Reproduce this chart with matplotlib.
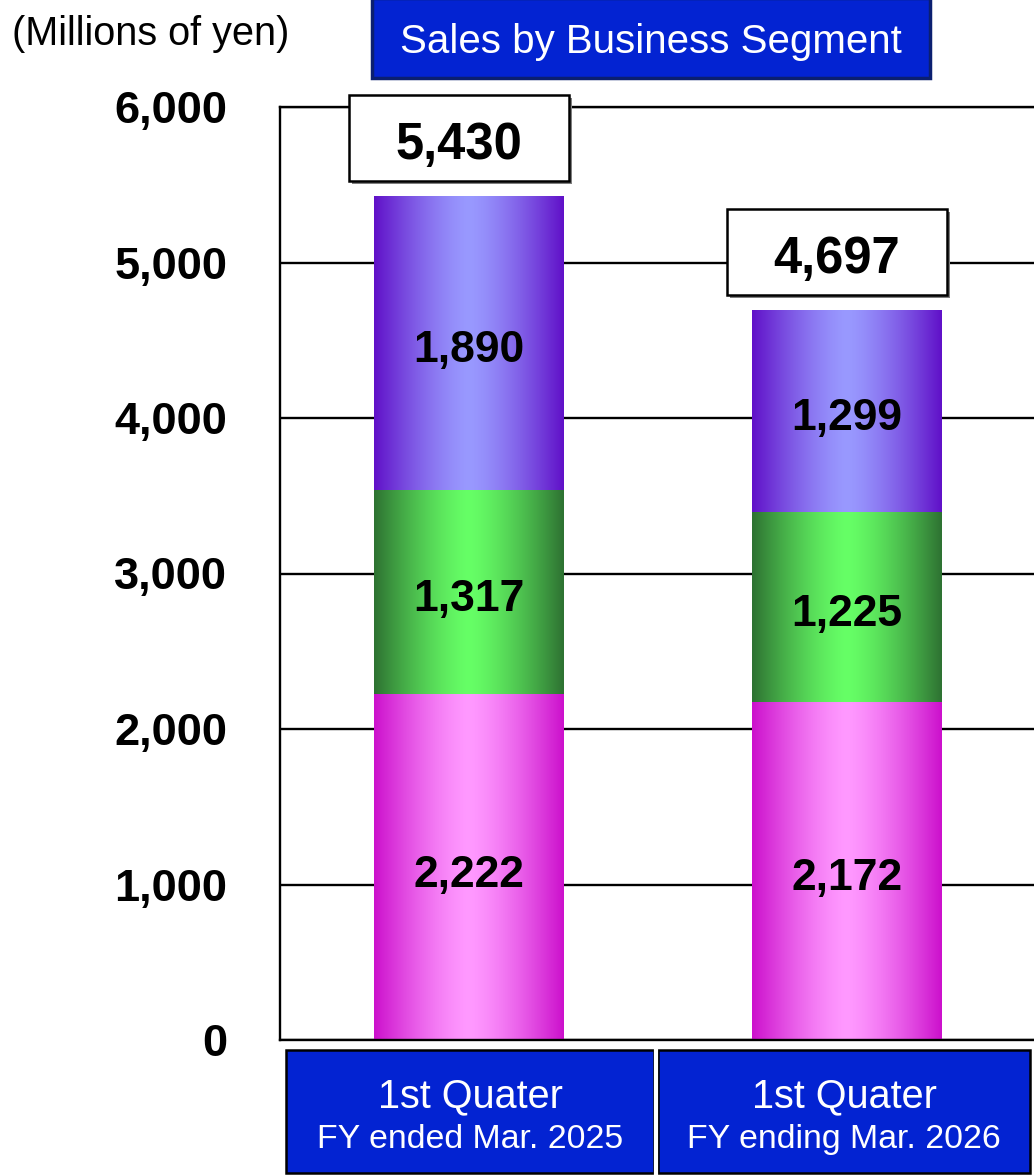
import numpy as np
import matplotlib.pyplot as plt
import matplotlib.colors as mcolors
from matplotlib.patches import Rectangle

plt.rcParams['font.family'] = ['Liberation Sans', 'DejaVu Sans']

#Datos
periodos = ["1st Quater", "1st Quater"]
ejercicios = ["FY ended Mar. 2025", "FY ending Mar. 2026"]
ventasRosa = [2222, 2172]     # segmento inferior
ventasVerde = [1317, 1225]    # segmento medio
ventasMorado = [1890, 1299]   # segmento superior
totales = [5430, 4697]
yTicks = [0, 1000, 2000, 3000, 4000, 5000, 6000]
yTickLabels = ["0", "1,000", "2,000", "3,000", "4,000", "5,000", "6,000"]

#Colores (borde, centro) de cada segmento
colRosa = ("#CC10CC", "#FF99FF")
colVerde = ("#2E7232", "#66FF66")
colMorado = ("#6010C8", "#9999FF")
azul = "#0323D2"

W, H = 1034, 1176
fig = plt.figure(figsize=(W / 100, H / 100), dpi=100)
ax = fig.add_axes([280 / W, (H - 1040) / H, (1100 - 280) / W, 933 / H])

ancho = 0.503
x = np.arange(len(totales))

def barraGradiente(ax, xc, base, alto, colores):
    borde = np.array(mcolors.to_rgb(colores[0]))
    centro = np.array(mcolors.to_rgb(colores[1]))
    s = np.linspace(-1, 1, 300)
    t = np.abs(s) ** 1.4
    img = centro[None, :] * (1 - t[:, None]) + borde[None, :] * t[:, None]
    ax.imshow(img[None, :, :], extent=[xc - ancho / 2, xc + ancho / 2, base, base + alto],
              aspect='auto', zorder=2, interpolation='bilinear')

for i in range(len(x)):
    b = 0
    for valores, col in [(ventasRosa, colRosa), (ventasVerde, colVerde), (ventasMorado, colMorado)]:
        v = valores[i]
        barraGradiente(ax, x[i], b, v, col)
        ax.text(x[i], b + v / 2 - 50, f"{v:,}", ha='center', va='center',
                fontsize=32, fontweight='bold', zorder=4)
        b += v
    #Caja del total
    bw, bh = 0.583, 553
    bx = x[i] - 0.026 - bw / 2
    by = b + 95
    ax.add_patch(Rectangle((bx + 0.008, by - 19), bw, bh, facecolor='#7F7F7F',
                           edgecolor='none', clip_on=False, zorder=5))
    ax.add_patch(Rectangle((bx, by), bw, bh, facecolor='white', edgecolor='black',
                           lw=1.8, clip_on=False, zorder=6))
    ax.text(bx + bw / 2, by + bh / 2 - 15, f"{totales[i]:,}", ha='center', va='center_baseline',
            fontsize=36.5, fontweight='bold', zorder=7)

ax.set_xlim(-0.5007, 1.671)
ax.set_ylim(0, 6000)
ax.set_yticks(yTicks)
ax.set_yticklabels(yTickLabels, fontsize=32.5, fontweight='bold')
ax.tick_params(axis='y', length=0, pad=38)
ax.set_xticks([])
ax.yaxis.grid(True, color='black', lw=1.7)
ax.set_axisbelow(True)
for lado in ['left', 'bottom', 'top']:
    ax.spines[lado].set_linewidth(1.7)
ax.spines['right'].set_visible(False)

#Cajas de categorias
tr = ax.get_xaxis_transform()
cajas = [(-0.485, 0.49), (0.5007, 1.486)]
for i, (x0, x1) in enumerate(cajas):
    ax.add_patch(Rectangle((x0, -0.1426), x1 - x0, 0.1319, transform=tr, facecolor=azul,
                           edgecolor='black', lw=1.8, clip_on=False, zorder=5))
    xc = (x0 + x1) / 2
    ax.text(xc, -0.0718, periodos[i], transform=tr, ha='center', va='baseline',
            color='white', fontsize=28.5, zorder=6)
    ax.text(xc, -0.1158, ejercicios[i], transform=tr, ha='center', va='baseline',
            color='white', fontsize=24.4, zorder=6)
ax.plot([0.4955, 0.4955], [-0.0107, -0.1426], transform=tr, color='white', lw=3,
        clip_on=False, zorder=7)

#Titulo y unidades
fig.add_artist(Rectangle((372 / W, 1 - 78 / H), (930 - 372) / W, 80 / H, transform=fig.transFigure,
                         facecolor=azul, edgecolor='#0B1F70', lw=2.5))
fig.text(651 / W, 1 - 53 / H, "Sales by Business Segment", ha='center', va='baseline',
         color='white', fontsize=29)
fig.text(12 / W, 1 - 45 / H, "(Millions of yen)", ha='left', va='baseline', fontsize=28.5)

plt.savefig("out.png", dpi=100)
